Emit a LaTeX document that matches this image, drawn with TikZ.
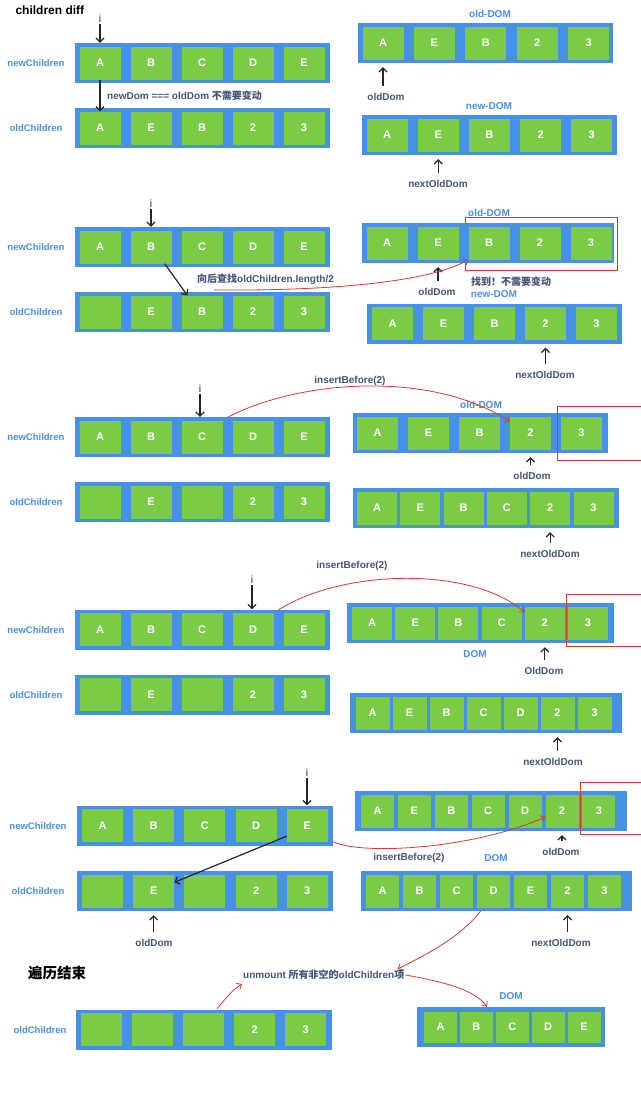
\documentclass[tikz,border=0pt]{standalone}
\usepackage{fontspec}
\setmainfont{Liberation Sans}
\newfontfamily\cjk{Noto Sans CJK SC}
\usepackage{tikz}
\usetikzlibrary{
  arrows.meta,
  positioning,
  calc
}
\definecolor{dfBar}{HTML}{4691E6}
\definecolor{dfCell}{HTML}{7BCB47}
\definecolor{dfBlue}{HTML}{4A90E2}
\definecolor{dfNote}{HTML}{44557A}
\definecolor{dfRed}{HTML}{D43A2F}
\tikzset{
  bar/.style={fill=dfBar, inner sep=0pt, minimum height=40pt, minimum width=255pt},
  cell/.style={
    fill=dfCell, inner sep=0pt, minimum width=41pt, minimum height=33pt,
    text=white, font=\fontsize{11}{13}\selectfont\bfseries
  },
  rowlabel/.style={text=dfBlue, font=\fontsize{9.5}{11}\selectfont\bfseries},
  domlabel/.style={text=dfBlue, font=\fontsize{10}{12}\selectfont\bfseries, inner sep=1pt},
  note/.style={text=dfNote, font=\fontsize{10}{12}\selectfont\bfseries, inner sep=1pt},
  ilabel/.style={text=black!85, font=\fontsize{10.5}{12}\selectfont, inner sep=1pt},
  headline/.style={text=black, font=\fontsize{12}{14}\selectfont\bfseries},
  ptr/.style={-{Straight Barb[length=4pt,width=8pt]}, line width=1.2pt, black!85},
  up/.style={ptr, shorten <=6pt, shorten >=4pt},
  redarrow/.style={-{Straight Barb[length=4pt,width=7pt]}, line width=0.8pt, dfRed},
  redline/.style={line width=0.8pt, dfRed}
}

\begin{document}
\begin{tikzpicture}[x=1pt, y=-1pt]
  \fill[white] (0,0) rectangle (640,1103);
  \useasboundingbox (0,0) rectangle (640,1103);

  % step 1
  \node[headline, anchor=west] (head) at (12,10) {children diff};
  \node[rowlabel] (ln1) at (36,63) {newChildren};
  \node[rowlabel] (lo1) at (36,128) {oldChildren};
  \node[bar] (new1) at (202.5,63) {};
  \foreach \txt [count=\idx] in {A,B,C,D,E}
    \node[cell] (new1-\idx) at ({100+51*(\idx-1)},63) {\txt};
  \node[bar] (old1) at (202.5,128) {};
  \foreach \txt [count=\idx] in {A,E,B,2,3}
    \node[cell] (old1-\idx) at ({100+51*(\idx-1)},128) {\txt};
  \node[ilabel] (i1) at (100,19) {i};
  \draw[ptr] (i1) -- (i1 |- new1.north);
  \draw[ptr] (new1-1) -- (old1-1);
  \node[note, anchor=west] (same1) at (106,96) {newDom === oldDom {\cjk 不需要变动}};

  \node[domlabel] (dl1) at (490,14) {old-DOM};
  \node[bar] (odom1) at (485.5,43) {};
  \foreach \txt [count=\idx] in {A,E,B,2,3}
    \node[cell] (odom1-\idx) at ({383+51.4*(\idx-1)},43) {\txt};
  \node[note] (od1) at (386,97) {oldDom};
  \draw[up] (odom1-1 |- od1.north) -- (odom1-1 |- odom1.south);
  \node[domlabel] (dl2) at (489,106) {new-DOM};
  \node[bar] (ndom1) at (489.5,135) {};
  \foreach \txt [count=\idx] in {A,E,B,2,3}
    \node[cell] (ndom1-\idx) at ({387+51.2*(\idx-1)},135) {\txt};
  \node[note] (nod1) at (438,184) {nextOldDom};
  \draw[up] (ndom1-2 |- nod1.north) -- (ndom1-2 |- ndom1.south);

  % step 2
  \node[rowlabel] (ln2) at (36,247) {newChildren};
  \node[rowlabel] (lo2) at (36,312) {oldChildren};
  \node[bar] (new2) at (202.5,247) {};
  \foreach \txt [count=\idx] in {A,B,C,D,E}
    \node[cell] (new2-\idx) at ({100+51*(\idx-1)},247) {\txt};
  \node[bar] (old2) at (202.5,312) {};
  \foreach \txt [count=\idx] in {{},E,B,2,3}
    \node[cell] (old2-\idx) at ({100+51*(\idx-1)},312) {\txt};
  \node[ilabel] (i2) at (151,204) {i};
  \draw[ptr] (i2) -- (i2 |- new2.north);
  \draw[ptr] ([xshift=-7pt]new2-2.south east) -- ([xshift=6pt]old2-3.north west);
  \node[note, anchor=west] (look2) at (196,279) {{\cjk 向后查找}oldChildren.length/2};

  \draw[redline] (465,217) rectangle (617,270);
  \node[domlabel] (dl3) at (489,213) {old-DOM};
  \node[bar, minimum width=252pt] (odom2) at (487.5,243) {};
  \foreach \txt [count=\idx] in {A,E,B,2,3}
    \node[cell] (odom2-\idx) at ({387+51*(\idx-1)},243) {\txt};
  \node[note] (od2) at (437,292) {oldDom};
  \draw[up] (odom2-2 |- od2.north) -- (odom2-2 |- odom2.south);
  \node[note] (found2) at (511,282) {\cjk 找到！不需要变动};
  \coordinate (r2s) at (214,290);
  \draw[redarrow] (r2s) .. controls (330,291) and (430,282) .. (odom2-3.south west);
  \node[domlabel] (dl4) at (494,294) {new-DOM};
  \node[bar] (ndom2) at (494.5,323.5) {};
  \foreach \txt [count=\idx] in {A,E,B,2,3}
    \node[cell] (ndom2-\idx) at ({392.5+51*(\idx-1)},323.5) {\txt};
  \node[note] (nod2) at (545,375) {nextOldDom};
  \draw[up] (ndom2-4 |- nod2.north) -- (ndom2-4 |- ndom2.south);

  % step 3
  \node[rowlabel] (ln3) at (36,437) {newChildren};
  \node[rowlabel] (lo3) at (36,502) {oldChildren};
  \node[bar] (new3) at (202.5,437) {};
  \foreach \txt [count=\idx] in {A,B,C,D,E}
    \node[cell] (new3-\idx) at ({100+51*(\idx-1)},437) {\txt};
  \node[bar] (old3) at (202.5,502) {};
  \foreach \txt [count=\idx] in {{},E,{},2,3}
    \node[cell] (old3-\idx) at ({100+51*(\idx-1)},502) {\txt};
  \node[ilabel] (i3) at (200,389) {i};
  \draw[ptr] (i3) -- (i3 |- new3.north);

  \node[domlabel] (dl5) at (481,405) {old-DOM};
  \node[bar] (odom3) at (480.5,433) {};
  \foreach \txt [count=\idx] in {A,E,B,2,3}
    \node[cell] (odom3-\idx) at ({377.5+51*(\idx-1)},433) {\txt};
  \draw[redline] (645,406) -| (557,460) -- (645,460);
  \node[note] (ins3) at (350,381) {insertBefore(2)};
  \coordinate (r3s) at (228,417);
  \draw[redarrow] (r3s) .. controls (300,380) and (430,370) .. ([yshift=-5pt]odom3-4.north west);
  \node[note] (od3) at (532,476) {oldDom};
  \draw[up] (odom3-4 |- od3.north) -- (odom3-4 |- odom3.south);
  \node[bar, minimum width=266pt] (dom3) at (486,508) {};
  \foreach \txt [count=\idx] in {A,E,B,C,2,3}
    \node[cell, minimum width=40pt] (dom3-\idx) at ({377+43.3*(\idx-1)},508) {\txt};
  \node[note] (nod3) at (550,554) {nextOldDom};
  \draw[up] (dom3-5 |- nod3.north) -- (dom3-5 |- dom3.south);

  % step 4
  \node[rowlabel] (ln4) at (36,630) {newChildren};
  \node[rowlabel] (lo4) at (36,695) {oldChildren};
  \node[bar] (new4) at (202.5,629.5) {};
  \foreach \txt [count=\idx] in {A,B,C,D,E}
    \node[cell] (new4-\idx) at ({100+51*(\idx-1)},629.5) {\txt};
  \node[bar] (old4) at (202.5,694.5) {};
  \foreach \txt [count=\idx] in {{},E,{},2,3}
    \node[cell] (old4-\idx) at ({100+51*(\idx-1)},694.5) {\txt};
  \node[ilabel] (i4) at (252,580) {i};
  \draw[ptr] (i4) -- (i4 |- new4.north);

  \node[bar, minimum width=267pt] (top4) at (480.5,623) {};
  \foreach \txt [count=\idx] in {A,E,B,C,2,3}
    \node[cell, minimum width=40pt] (top4-\idx) at ({372+43.2*(\idx-1)},623) {\txt};
  \draw[redline] (645,594) -| (566,646) -- (645,646);
  \node[note] (ins4) at (352,566) {insertBefore(2)};
  \coordinate (r4s) at (278.5,610);
  \draw[redarrow] (r4s) .. controls (340,570) and (470,565) .. ([yshift=-6pt]top4-5.north west);
  \node[domlabel] (dl6) at (475,654) {DOM};
  \node[note] (od4) at (544,671) {OldDom};
  \draw[up] (top4-5 |- od4.north) -- (top4-5 |- top4.south);
  \node[bar, minimum width=272pt] (bot4) at (486,713) {};
  \foreach \txt [count=\idx] in {A,E,B,C,D,2,3}
    \node[cell, minimum width=34pt] (bot4-\idx) at ({372.5+37*(\idx-1)},713) {\txt};
  \node[note] (nod4) at (553,762) {nextOldDom};
  \draw[up] (bot4-6 |- nod4.north) -- (bot4-6 |- bot4.south);

  % step 5
  \node[rowlabel] (ln5) at (38,826) {newChildren};
  \node[rowlabel] (lo5) at (38,891) {oldChildren};
  \node[bar, minimum width=256pt] (new5) at (205,825.5) {};
  \foreach \txt [count=\idx] in {A,B,C,D,E}
    \node[cell] (new5-\idx) at ({102.5+51.2*(\idx-1)},825.5) {\txt};
  \node[bar, minimum width=256pt] (old5) at (205,891) {};
  \foreach \txt [count=\idx] in {{},E,{},2,3}
    \node[cell] (old5-\idx) at ({102.5+51.2*(\idx-1)},891) {\txt};
  \node[ilabel] (i5) at (307,773) {i};
  \draw[ptr] (i5) -- (i5 |- new5.north);
  \draw[ptr] ([yshift=6pt]new5-5.south west) -- ([yshift=-8pt]old5-2.north east);
  \node[note] (od5) at (154,943) {oldDom};
  \draw[up] (old5-2 |- od5.north) -- (old5-2 |- old5.south);

  \node[bar, minimum width=272pt] (top5) at (491,811) {};
  \foreach \txt [count=\idx] in {A,E,B,C,D,2,3}
    \node[cell, minimum width=33pt] (top5-\idx) at ({377.5+36.9*(\idx-1)},811) {\txt};
  \draw[redline] (645,782) -| (580.5,834) -- (645,834);
  \draw[redarrow] ([yshift=4pt]new5.south east) .. controls (360,855) and (470,850) .. ([yshift=-6pt]top5-6.west);
  \node[note] (od5b) at (561,852) {oldDom};
  \draw[up] (top5-6 |- od5b.north) -- (top5-6 |- top5.south);
  \node[note] (ins5) at (409,858) {insertBefore(2)};
  \node[domlabel] (dl7) at (496,858) {DOM};
  \node[bar, minimum width=271pt] (bot5) at (496.5,891) {};
  \foreach \txt [count=\idx] in {A,B,C,D,E,2,3}
    \node[cell, minimum width=33pt] (bot5-\idx) at ({382.5+37*(\idx-1)},891) {\txt};
  \node[note] (nod5) at (561,943) {nextOldDom};
  \draw[up] (bot5-6 |- nod5.north) -- (bot5-6 |- bot5.south);

  % end of loop
  \node[headline, font=\fontsize{14.5}{16}\selectfont\cjk\bfseries] (done) at (57,973) {遍历结束};
  \node[note, anchor=west] (unm) at (242,975) {unmount {\cjk 所有非空的}oldChildren{\cjk 项}};
  \draw[redarrow] ([xshift=-16pt]bot5.south) .. controls (462,935) and (432,952) .. ([xshift=-8pt]unm.north east);
  \node[rowlabel] (lo6) at (40,1030) {oldChildren};
  \node[bar, minimum width=256pt] (old6) at (204,1029.5) {};
  \foreach \txt [count=\idx] in {{},{},{},2,3}
    \node[cell] (old6-\idx) at ({101+51.2*(\idx-1)},1029.5) {\txt};
  \draw[redarrow] ([xshift=-7pt,yshift=4pt]old6-3.north east) .. controls (226,998) and (232,990) .. ([yshift=-3pt]unm.south west);
  \node[domlabel] (dl8) at (511,996) {DOM};
  \node[bar, minimum width=188pt] (dom6) at (511,1027) {};
  \foreach \txt [count=\idx] in {A,B,C,D,E}
    \node[cell, minimum width=33pt, minimum height=31pt] (dom6-\idx) at ({440.5+35.9*(\idx-1)},1027) {\txt};
  \draw[redarrow] (unm.east) .. controls (445,982) and (475,990) .. ([xshift=-24pt]dom6.north);
\end{tikzpicture}
\end{document}
